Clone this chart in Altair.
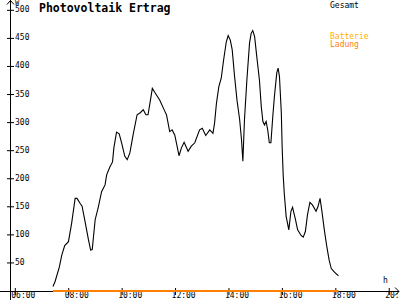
import altair as alt
import pandas as pd

# ---- data ----
gesamt_t = [7.41, 7.49, 7.65, 7.74, 7.85, 7.99, 8.11, 8.24, 8.31, 8.43, 8.50, 8.61, 8.74, 8.82, 8.88,
            8.99, 9.11, 9.23, 9.36, 9.42, 9.54, 9.64, 9.69, 9.79, 9.89, 9.98, 10.10, 10.19, 10.29,
            10.41, 10.56, 10.69, 10.79, 10.89, 10.97, 11.06, 11.13, 11.22, 11.41, 11.60, 11.66,
            11.78, 11.87, 11.97, 12.13, 12.22, 12.32, 12.47, 12.59, 12.72, 12.90, 13.00, 13.13,
            13.28, 13.40, 13.46, 13.53, 13.62, 13.71, 13.80, 13.90, 13.97, 14.05, 14.12, 14.21,
            14.30, 14.40, 14.47, 14.52, 14.58, 14.67, 14.77, 14.83, 14.89, 14.96, 15.04, 15.14,
            15.21, 15.27, 15.33, 15.39, 15.45, 15.51, 15.57, 15.64, 15.70, 15.79, 15.84, 15.89,
            15.96, 15.99, 16.03, 16.07, 16.14, 16.24, 16.32, 16.38, 16.49, 16.57, 16.70, 16.78,
            16.86, 16.94, 17.03, 17.13, 17.26, 17.33, 17.41, 17.48, 17.57, 17.66, 17.75, 17.83,
            17.94, 18.10]
gesamt_v = [8, 17, 43, 64, 81, 88, 121, 165, 165, 156, 151, 124, 91, 73, 74,
            127, 150, 177, 189, 207, 221, 230, 255, 283, 280, 264, 240, 234, 246,
            278, 314, 318, 323, 314, 314, 340, 361, 354, 340, 320, 314,
            284, 287, 278, 241, 255, 265, 249, 258, 264, 287, 290, 277,
            287, 281, 299, 334, 364, 379, 412, 444, 455, 447, 430, 382,
            340, 305, 269, 231, 305, 376, 442, 459, 464, 453, 418, 376,
            328, 302, 296, 302, 287, 264, 264, 311, 346, 389, 397, 382,
            317, 258, 206, 174, 133, 109, 142, 149, 127, 109, 99, 96,
            106, 136, 158, 153, 142, 150, 165, 142, 109, 80, 55, 40,
            34, 27]
ladung_t = [7.41, 18.10]
ladung_v = [0, 0]
x_tick_hours = [6, 8, 10, 12, 14, 16, 18, 20]
x_tick_labels = ["06:00", "08:00", "10:00", "12:00", "14:00", "16:00", "18:00", "20:00"]
y_tick_values = [50, 100, 150, 200, 250, 300, 350, 400, 450, 500]

title_text = "Photovoltaik Ertrag"
legend_labels = ["Gesamt", "Batterie", "Ladung"]
legend_colors = ["#000000", "#FFB000", "#FF8000"]

FONT = "DejaVu Sans Mono"
xs = alt.Scale(domain=[5.427, 20.403], nice=False, zero=False)
ys = alt.Scale(domain=[-16.0, 518.4], nice=False, zero=False)

gesamt = pd.DataFrame({"t": gesamt_t, "v": gesamt_v})
ladung = pd.DataFrame({"t": ladung_t, "v": ladung_v})
xt = pd.DataFrame({"t": x_tick_hours, "label": x_tick_labels})
yt = pd.DataFrame({"v": y_tick_values})
one = pd.DataFrame({"a": [0]})

X = lambda: alt.X("t:Q", scale=xs, axis=None)
Y = lambda: alt.Y("v:Q", scale=ys, axis=None)


def seg(x1, y1, x2, y2):
    return alt.Chart(one).mark_rule(color="#000000", strokeWidth=1).encode(
        x=alt.value(x1), y=alt.value(y1), x2=alt.value(x2), y2=alt.value(y2))


def txt(s, x, y, color="#000000", size=8, weight="normal", baseline="alphabetic"):
    return alt.Chart(one).mark_text(text=s, font=FONT, fontSize=size, fontWeight=weight,
                                    color=color, align="left", baseline=baseline).encode(
        x=alt.value(x), y=alt.value(y))


# axis lines and arrows
axes = [
    seg(10.5, 0, 10.5, 300),        # y axis line
    seg(0, 291.5, 399, 291.5),      # x axis line
    seg(7, 4.5, 10.5, 0.5), seg(14, 4.5, 10.5, 0.5),
    seg(395, 287.5, 399, 291.5), seg(395, 295.5, 399, 291.5),
]

yticks = alt.Chart(yt).mark_rule(color="#000000", strokeWidth=1).encode(
    y=Y(), x=alt.value(7), x2=alt.value(14))
ylabels = alt.Chart(yt).mark_text(font=FONT, fontSize=8, color="#000000", align="left",
                                  baseline="middle").encode(
    y=Y(), x=alt.value(15), text=alt.Text("v:Q", format="d"))

xticks = alt.Chart(xt).mark_rule(color="#000000", strokeWidth=1).encode(
    x=X(), y=alt.value(288), y2=alt.value(295))
xlabels = alt.Chart(xt).mark_text(font=FONT, fontSize=8, color="#000000", align="left",
                                  baseline="top", dx=-4).encode(
    x=X(), y=alt.value(292), text="label:N")

line = alt.Chart(gesamt).mark_line(color="#000000", strokeWidth=1.1).encode(x=X(), y=Y())
lad = alt.Chart(ladung).mark_line(color="#FF8000", strokeWidth=2).encode(x=X(), y=Y())

texts = [
    txt(title_text, 39, 12, size=11.5, weight="bold"),
    txt(legend_labels[0], 330, 8, color=legend_colors[0]),
    txt(legend_labels[1], 330, 39, color=legend_colors[1]),
    txt(legend_labels[2], 330, 47, color=legend_colors[2]),
    txt("W", 15, 5, size=7),
    txt("h", 383, 283),
]

chart = alt.layer(*axes, yticks, ylabels, xticks, xlabels, line, lad, *texts).properties(
    width=400, height=300, autosize=alt.AutoSizeParams(type="none"), padding=0,
    background="#FFFFFF",
).configure_view(stroke=None)

chart.save("out.html", embed_options={"renderer": "svg", "actions": False})
